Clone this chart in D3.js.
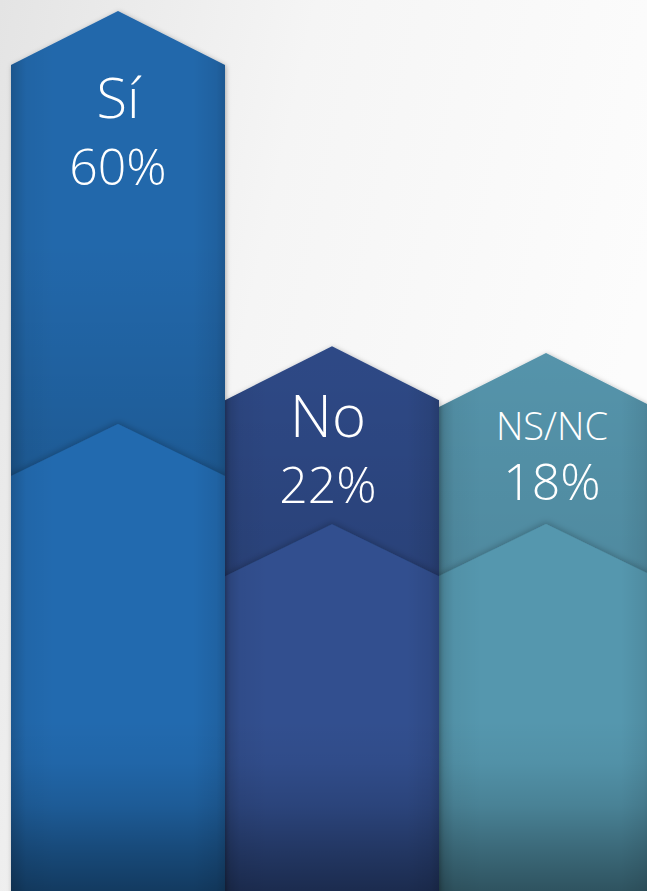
<!DOCTYPE html>
<html>
<head>
<meta charset="utf-8">
<script src="https://cdn.jsdelivr.net/npm/d3@7/dist/d3.min.js"></script>
<style>
  html, body { margin: 0; padding: 0; background: #f4f4f4; }
  svg { display: block; }
</style>
</head>
<body>
<svg id="chart" width="647" height="891"></svg>
<script>
// ---- data ----
const categories = ["Sí", "No", "NS/NC"];
const values = [60, 22, 18];
const valueLabels = ["60%", "22%", "18%"];

// ---- layout / style ----
const W = 647, H = 891;
const baseColors = ["#2267ab", "#2d4986", "#5594ab"];
const lowerColors = ["#236aaf", "#31508f", "#5597ae"];
const preShade = [0.13, 0.1, 0.07];
const innerDrop = [413, 178, 171];      // decorative inner chevron offset below shoulder
const labelDy = [53, 37, 33];
const pctDy = [120, 103, 93];
const labelSize = [56, 58, 38];
const pctSize = [50, 50, 50];
const textShift = [0, -4, 6];
const tipRise = 54;

const svg = d3.select("#chart");
const defs = svg.append("defs");

// background gradient
const bg = defs.append("linearGradient").attr("id", "bg")
  .attr("x1", "0").attr("y1", "0").attr("x2", "1").attr("y2", "0.3");
bg.append("stop").attr("offset", "0").attr("stop-color", "#e4e4e4");
bg.append("stop").attr("offset", "0.45").attr("stop-color", "#f5f5f5");
bg.append("stop").attr("offset", "1").attr("stop-color", "#fcfcfc");
svg.append("rect").attr("width", W).attr("height", H).attr("fill", "url(#bg)");

// side shading gradient
const side = defs.append("linearGradient").attr("id", "side")
  .attr("x1", "0").attr("y1", "0").attr("x2", "1").attr("y2", "0");
[[0, 0.18], [0.07, 0.04], [0.2, 0], [0.85, 0], [0.96, 0.07], [1, 0.16]].forEach(([o, a]) =>
  side.append("stop").attr("offset", o).attr("stop-color", "#000").attr("stop-opacity", a));

// bottom darkening gradient (userSpace)
const bottom = defs.append("linearGradient").attr("id", "bottomShade")
  .attr("gradientUnits", "userSpaceOnUse")
  .attr("x1", 0).attr("y1", 720).attr("x2", 0).attr("y2", H);
[[0, 0], [0.25, 0.04], [0.5, 0.14], [0.75, 0.3], [1, 0.45]].forEach(([o, a]) =>
  bottom.append("stop").attr("offset", o).attr("stop-color", "#000").attr("stop-opacity", a));

// drop shadow filter
const f = defs.append("filter").attr("id", "shadow")
  .attr("x", "-10%").attr("y", "-10%").attr("width", "120%").attr("height", "120%");
f.append("feDropShadow").attr("dx", 1).attr("dy", 1).attr("stdDeviation", 2.5)
  .attr("flood-color", "#000").attr("flood-opacity", 0.3);

const fi = defs.append("filter").attr("id", "innerShadow")
  .attr("x", "-10%").attr("y", "-20%").attr("width", "120%").attr("height", "140%");
fi.append("feDropShadow").attr("dx", 0).attr("dy", -2).attr("stdDeviation", 3)
  .attr("flood-color", "#000").attr("flood-opacity", 0.22);

// ---- scales ----
const x = d3.scaleBand().domain(categories).range([11, 653]).padding(0);
const y = d3.scalePow().exponent(3.15).domain([0, 60]).range([415, 65]);

function pentagon(x0, x1, shoulder, bottomY) {
  const xc = (x0 + x1) / 2;
  return `M${x0},${bottomY}L${x0},${shoulder}L${xc},${shoulder - tipRise}L${x1},${shoulder}L${x1},${bottomY}Z`;
}

const data = categories.map((c, i) => ({ c, v: values[i], label: valueLabels[i], i }));

// draw right-to-left so left bar's shadow overlaps neighbour
const order = [2, 1, 0];
order.forEach(i => {
  const d = data[i];
  const x0 = x(d.c), x1 = x(d.c) + x.bandwidth();
  const s = y(d.v);
  const innerS = s + innerDrop[i];

  const clipId = "clip" + i;
  defs.append("clipPath").attr("id", clipId)
    .append("path").attr("d", pentagon(x0, x1, s, H + 5));

  const g = svg.append("g");
  g.append("path").attr("d", pentagon(x0, x1, s, H + 5))
    .attr("fill", baseColors[i]).attr("filter", "url(#shadow)");

  const inner = g.append("g").attr("clip-path", `url(#${clipId})`);

  // darkening above inner chevron
  const gid = "pre" + i;
  const pre = defs.append("linearGradient").attr("id", gid)
    .attr("gradientUnits", "userSpaceOnUse")
    .attr("x1", 0).attr("y1", innerS - tipRise - 180).attr("x2", 0).attr("y2", innerS);
  pre.append("stop").attr("offset", "0").attr("stop-color", "#000").attr("stop-opacity", 0);
  pre.append("stop").attr("offset", "1").attr("stop-color", "#000").attr("stop-opacity", preShade[i]);
  inner.append("rect").attr("x", x0).attr("width", x1 - x0)
    .attr("y", innerS - tipRise - 180).attr("height", 180 + tipRise)
    .attr("fill", `url(#${gid})`);

  // inner chevron (lower layer)
  inner.append("path").attr("d", pentagon(x0 - 4, x1 + 4, innerS, H + 10))
    .attr("fill", lowerColors[i]).attr("filter", "url(#innerShadow)");

  // side shading and bottom shading
  inner.append("rect").attr("x", x0).attr("y", 0).attr("width", x1 - x0).attr("height", H)
    .attr("fill", "url(#side)");
  inner.append("rect").attr("x", x0).attr("y", 720).attr("width", x1 - x0).attr("height", H - 720)
    .attr("fill", "url(#bottomShade)");

  // texts
  const cx = (x0 + x1) / 2 + textShift[i];
  g.append("text").attr("x", cx).attr("y", s + labelDy[i])
    .attr("text-anchor", "middle").attr("fill", "#fff")
    .style("font-family", "'Open Sans', sans-serif").style("font-weight", 300)
    .style("font-size", labelSize[i] + "px").text(d.c);
  g.append("text").attr("x", cx).attr("y", s + pctDy[i])
    .attr("text-anchor", "middle").attr("fill", "#fff")
    .style("font-family", "'Open Sans', sans-serif").style("font-weight", 300)
    .style("font-size", pctSize[i] + "px").text(d.label);
});
</script>
</body>
</html>
